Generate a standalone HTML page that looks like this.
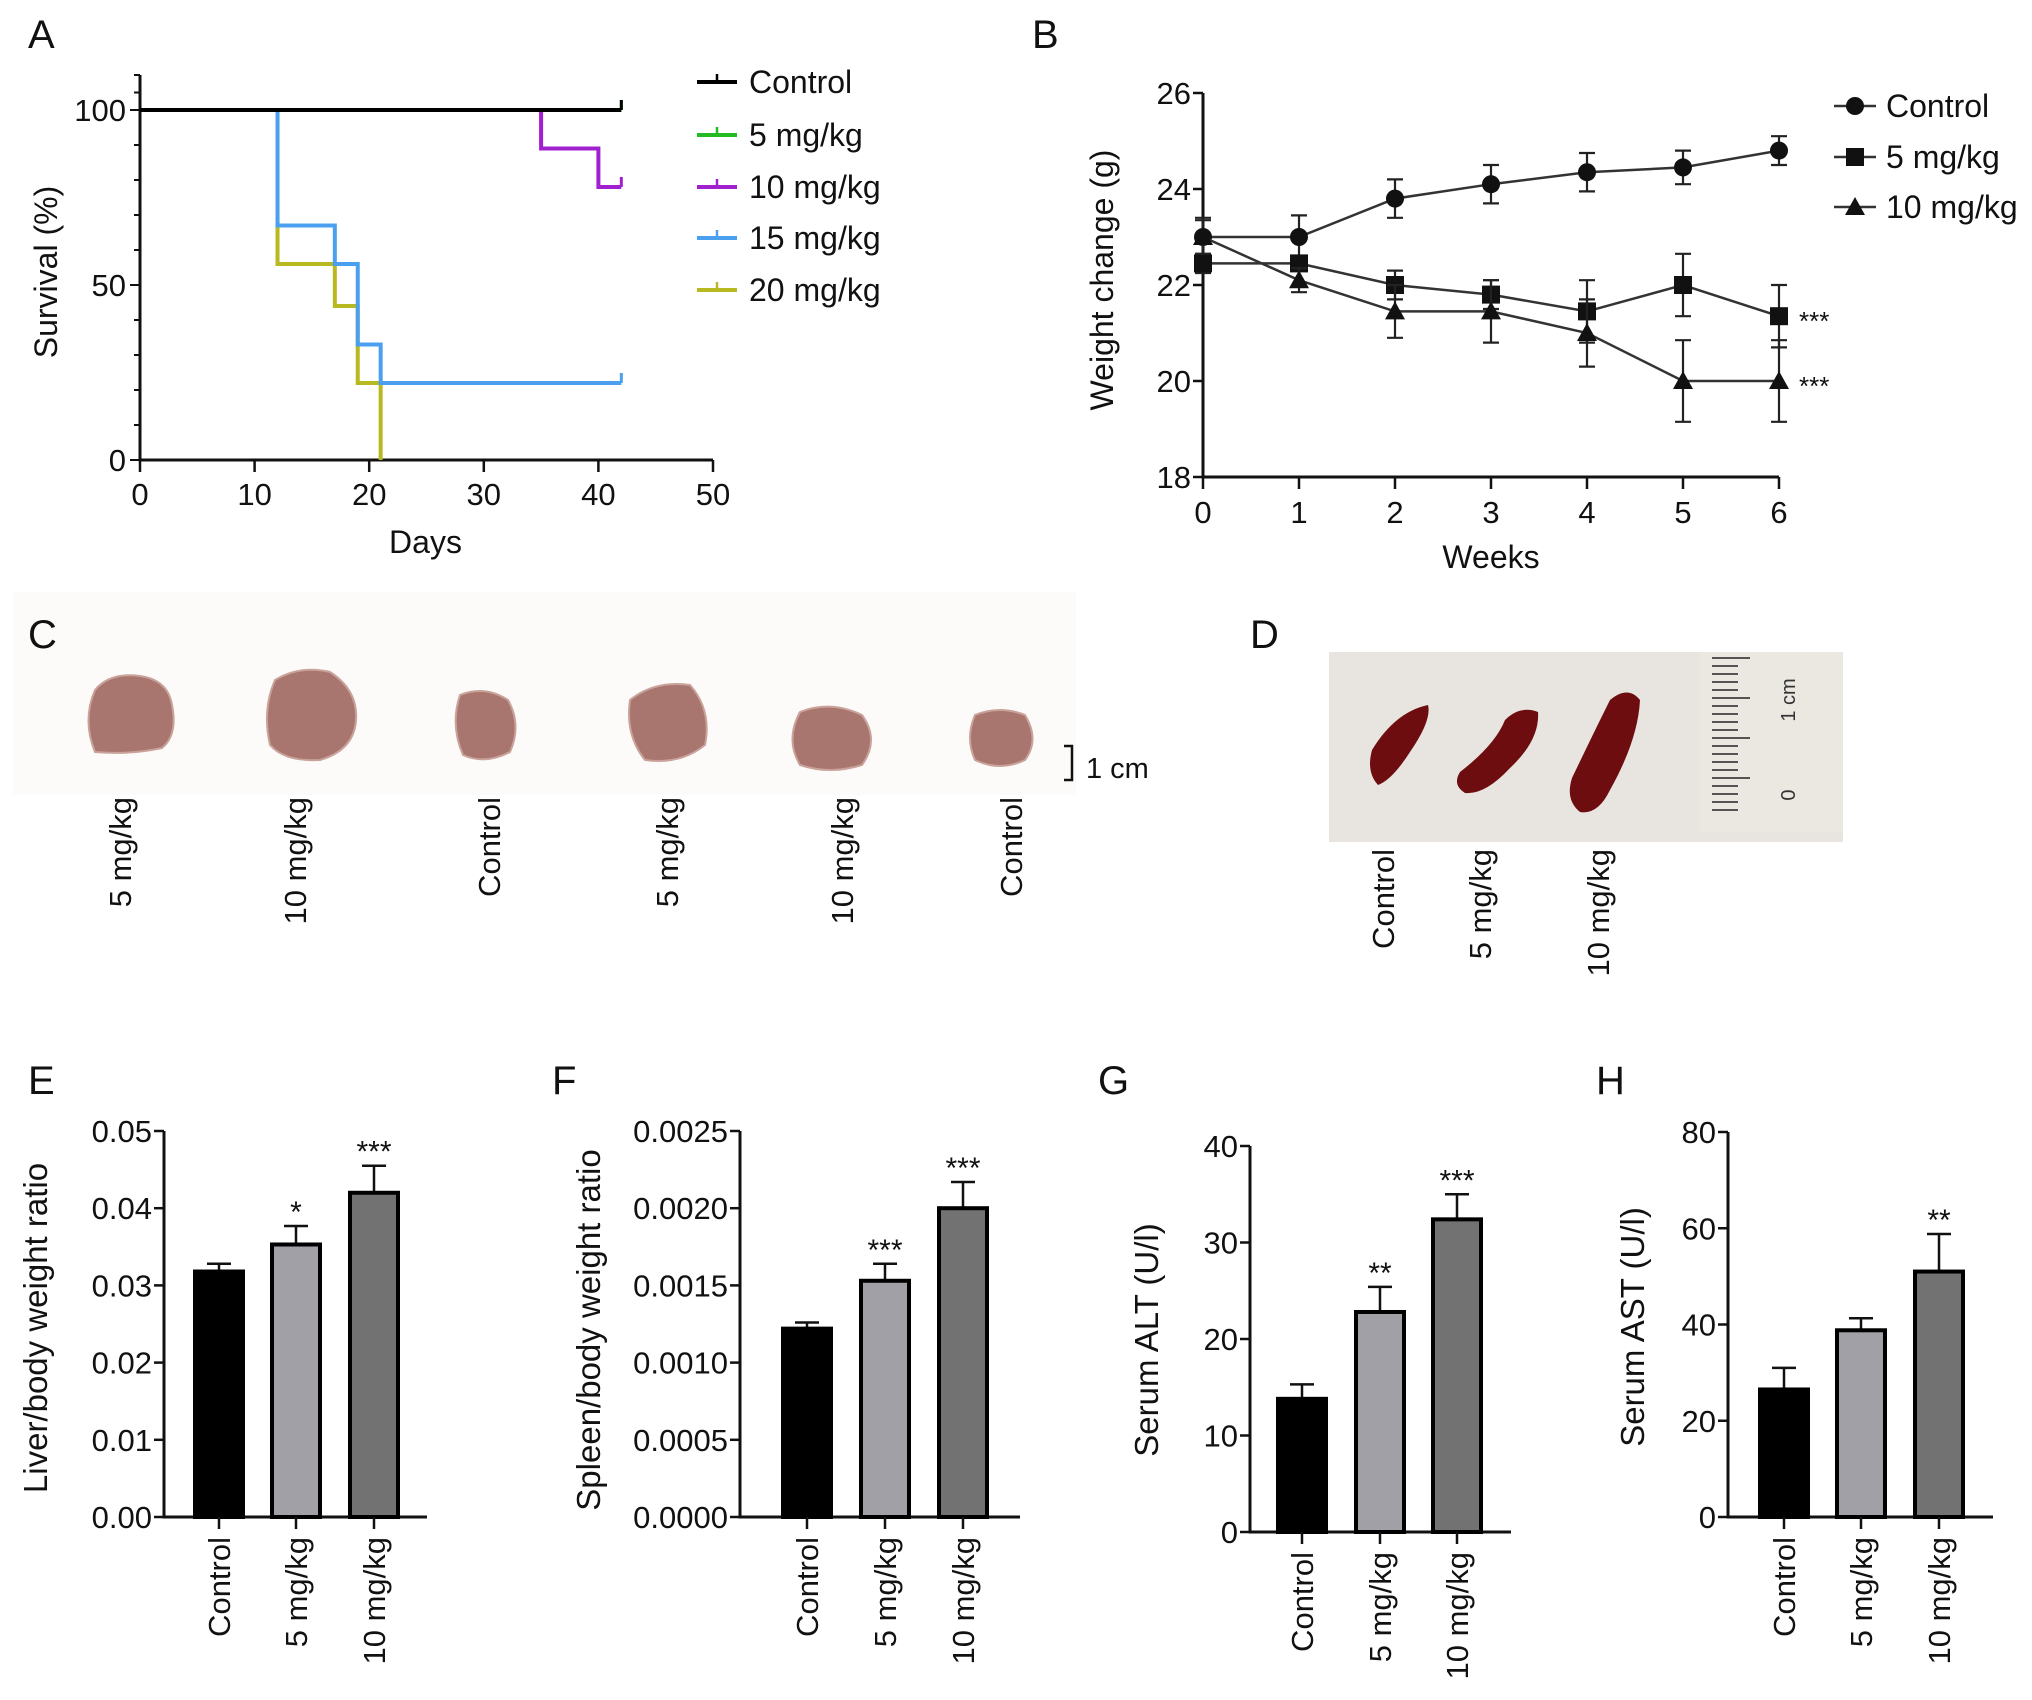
<!DOCTYPE html>
<html><head><meta charset="utf-8"><style>
html,body{margin:0;padding:0;background:#fff;}
svg{display:block;font-family:"Liberation Sans",sans-serif;}
</style></head><body>
<svg id="fig" width="2032" height="1700" viewBox="0 0 2032 1700" xmlns="http://www.w3.org/2000/svg">
<g id="photos">
  <rect x="13" y="592" width="1063" height="203" fill="#fcfbfa"/>
  <g fill="#a8766e" stroke="#c9a29a" stroke-width="2">
    <path d="M95 690 Q110 672 140 676 Q168 680 172 705 Q178 735 162 748 Q130 755 95 752 Q82 720 95 690Z"/>
    <path d="M275 680 Q300 665 330 672 Q358 690 356 720 Q354 750 320 760 Q285 762 270 745 Q262 710 275 680Z"/>
    <path d="M460 695 Q485 685 508 700 Q522 725 510 752 Q485 765 463 755 Q450 725 460 695Z"/>
    <path d="M630 700 Q655 680 690 685 Q712 710 705 745 Q680 765 645 760 Q625 735 630 700Z"/>
    <path d="M800 712 Q830 700 862 715 Q880 740 862 765 Q830 775 800 765 Q785 740 800 712Z"/>
    <path d="M975 715 Q1000 705 1025 715 Q1040 740 1025 760 Q1000 772 975 760 Q965 738 975 715Z"/>
  </g>
  <path d="M1064 746 H1072 V780 H1064" fill="none" stroke="#111" stroke-width="2.5"/>
  <text x="1086" y="778" font-size="29" fill="#111">1 cm</text>
  <rect x="1329" y="652" width="514" height="190" fill="#e8e5e1"/>
  <g fill="#6e0d0f">
    <path d="M1372 750 Q1395 712 1428 705 Q1432 720 1410 752 Q1392 780 1378 785 Q1366 772 1372 750Z"/>
    <path d="M1460 772 Q1495 745 1505 720 Q1520 705 1538 712 Q1540 740 1510 768 Q1485 795 1465 793 Q1452 785 1460 772Z"/>
    <path d="M1572 778 Q1595 730 1610 700 Q1628 685 1640 700 Q1638 740 1610 790 Q1598 815 1580 812 Q1565 800 1572 778Z"/>
  </g>
  <rect x="1700" y="652" width="143" height="180" fill="#ebe8e2"/>
  <g id="rulerTicks" stroke="#555" stroke-width="2"></g>
  <text transform="translate(1795,700) rotate(-90)" font-size="20" fill="#333" text-anchor="middle">1 cm</text>
  <text transform="translate(1795,795) rotate(-90)" font-size="20" fill="#333" text-anchor="middle">0</text>
</g>
<g id="root"></g>
</svg>
<script>
// ---------- Panel A data ----------
const survGroups = ["Control","5 mg/kg","10 mg/kg","15 mg/kg","20 mg/kg"];
const survColors = ["#000000","#22bb22","#a020d0","#4aa0ee","#b8b820"];
const survTimes10 = [0,35,40,42];
const survVals10 = [100,89,78,78];
const survTimes15 = [0,12,17,19,21,42];
const survVals15 = [100,67,56,33,22,22];
const survTimes20 = [0,12,17,19,21];
const survVals20 = [100,56,44,22,0];
const survTimesCtl = [0,42];
const survValsCtl = [100,100];
const survXTicks = [0,10,20,30,40,50];
const survYTicks = [0,50,100];
// ---------- Panel B data ----------
const weeks = [0,1,2,3,4,5,6];
const wCtl = [23.0,23.0,23.8,24.1,24.35,24.45,24.8];
const wCtlErr = [0.4,0.45,0.4,0.4,0.4,0.35,0.3];
const w5 = [22.45,22.45,22.0,21.8,21.45,22.0,21.35];
const w5Err = [0.2,0.15,0.3,0.3,0.65,0.65,0.65];
const w10 = [23.0,22.1,21.45,21.45,21.0,20.0,20.0];
const w10Err = [0.35,0.25,0.55,0.65,0.7,0.85,0.85];
const wYTicks = [18,20,22,24,26];
// ---------- Bar panels ----------
const barCats = ["Control","5 mg/kg","10 mg/kg"];
const liverVals = [0.0318,0.0353,0.0420];
const liverErr = [0.0010,0.0024,0.0035];
const liverStars = ["","*","***"];
const liverTicks = ["0.00","0.01","0.02","0.03","0.04","0.05"];
const spleenVals = [0.00122,0.00153,0.00200];
const spleenErr = [0.00004,0.00011,0.00017];
const spleenStars = ["","***","***"];
const spleenTicks = ["0.0000","0.0005","0.0010","0.0015","0.0020","0.0025"];
const altVals = [13.8,22.8,32.4];
const altErr = [1.5,2.6,2.6];
const altStars = ["","**","***"];
const altTicks = ["0","10","20","30","40"];
const astVals = [26.5,38.8,51.0];
const astErr = [4.5,2.5,7.8];
const astStars = ["","","**"];
const astTicks = ["0","20","40","60","80"];

const NS="http://www.w3.org/2000/svg";
const root=document.getElementById('root');
function mk(tag,attrs,parent,txt){const e=document.createElementNS(NS,tag);for(const k in attrs)e.setAttribute(k,attrs[k]);if(txt!==undefined)e.textContent=txt;(parent||root).appendChild(e);return e;}

const rt=document.getElementById('rulerTicks');
for(let i=0;i<20;i++){const y=658+i*8;const l=mk('line',{x1:1712,x2:1712+(i%5===0?38:26),y1:y,y2:y},rt);

}

const letters=[["A",28,48],["B",1032,48],["C",28,648],["D",1250,648],["E",28,1094],["F",552,1094],["G",1098,1094],["H",1596,1094]];
letters.forEach(l=>{const t=mk('text',{x:l[1],y:l[2],'font-size':40,fill:'#111'},root,l[0]);

});

function vlabel(x,yTop,txt,name,size){const t=mk('text',{transform:`translate(${x+size*0.36},${yTop}) rotate(-90)`,'text-anchor':'end','font-size':size,fill:'#111'},root,txt);

return t;}
const cLabels=["5 mg/kg","10 mg/kg","Control","5 mg/kg","10 mg/kg","Control"];
const cX=[120,295,489,667,842,1011];
cLabels.forEach((s,i)=>vlabel(cX[i],797,s,'liver-label-'+(i+1),31));
const dX=[1383,1480,1598];
barCats.forEach((s,i)=>vlabel(dX[i],849,s,'spleen-label-'+(i+1),31));

// ---------- Panel A ----------
(function(){
 const g=mk('g',{});
 const x0=140,x1=713,y0=460,y100=110;
 const X=v=>x0+(v-0)/50*(x1-x0), Y=v=>y0-(v/100)*(y0-y100);
 const ax=mk('path',{d:`M${x0} 75 V${y0} H${x1}`,fill:'none',stroke:'#111','stroke-width':3},g);
 
 for(let i=0;i<=11;i++){const y=Y(i*10);const big=i%5===0;mk('line',{x1:x0-(big?10:6),x2:x0,y1:y,y2:y,stroke:'#111','stroke-width':2},g);}
 mk('line',{x1:x0-6,x2:x0,y1:Y(105),y2:Y(105),stroke:'#111','stroke-width':2},g);
 survXTicks.forEach(v=>{mk('line',{x1:X(v),x2:X(v),y1:y0,y2:y0+12,stroke:'#111','stroke-width':2.5},g);
  const t=mk('text',{x:X(v),y:y0+45,'text-anchor':'middle','font-size':31,fill:'#111'},g,v);
  });
 survYTicks.forEach(v=>{const t=mk('text',{x:x0-14,y:Y(v)+11,'text-anchor':'end','font-size':31,fill:'#111'},g,v);
  });
 const xt=mk('text',{x:(x0+x1)/2-1,y:553,'text-anchor':'middle','font-size':32,fill:'#111'},g,'Days');
 
 const yt=mk('text',{transform:`translate(57,272) rotate(-90)`,'text-anchor':'middle','font-size':32,fill:'#111'},g,'Survival (%)');
 
 function step(ts,vs,col,name){let d=`M${X(ts[0])} ${Y(vs[0])}`;for(let i=1;i<ts.length;i++){d+=` H${X(ts[i])} V${Y(vs[i])}`;}
  const p=mk('path',{d,fill:'none',stroke:col,'stroke-width':4},g);
  const lt=ts[ts.length-1],lv=vs[vs.length-1];if(lv>0)mk('line',{x1:X(lt),x2:X(lt),y1:Y(lv),y2:Y(lv)-10,stroke:col,'stroke-width':3},g);}
 step(survTimes20,survVals20,survColors[4],'survival-line-20mg');
 step(survTimes15,survVals15,survColors[3],'survival-line-15mg');
 step(survTimes10,survVals10,survColors[2],'survival-line-10mg');
 step(survTimesCtl,survValsCtl,survColors[1],'survival-line-5mg');
 step(survTimesCtl,survValsCtl,survColors[0],'survival-line-control');
 const ly=[82,135,187,238,290];
 survGroups.forEach((s,i)=>{const e=mk('g',{},g);
  mk('line',{x1:697,x2:737,y1:ly[i],y2:ly[i],stroke:survColors[i],'stroke-width':4},e);
  mk('line',{x1:717,x2:717,y1:ly[i],y2:ly[i]-8,stroke:survColors[i],'stroke-width':2.5},e);
  mk('text',{x:749,y:ly[i]+11,'font-size':32,fill:'#111'},e,s);});
})();

// ---------- Panel B ----------
(function(){
 const g=mk('g',{});
 const x0=1203,x1=1779,y0=477,yT=93;
 const X=v=>x0+v/6*(x1-x0), Y=v=>y0-(v-18)/8*(y0-yT);
 const ax=mk('path',{d:`M${x0} ${yT} V${y0} H${x1}`,fill:'none',stroke:'#111','stroke-width':3},g);
 
 wYTicks.forEach(v=>{mk('line',{x1:x0-10,x2:x0,y1:Y(v),y2:Y(v),stroke:'#111','stroke-width':2.5},g);
  const t=mk('text',{x:x0-12,y:Y(v)+11,'text-anchor':'end','font-size':31,fill:'#111'},g,v);
  });
 weeks.forEach(v=>{mk('line',{x1:X(v),x2:X(v),y1:y0,y2:y0+12,stroke:'#111','stroke-width':2.5},g);
  const t=mk('text',{x:X(v),y:y0+46,'text-anchor':'middle','font-size':31,fill:'#111'},g,v);
  });
 const xt=mk('text',{x:(x0+x1)/2,y:568,'text-anchor':'middle','font-size':32,fill:'#111'},g,'Weeks');
 
 const yt=mk('text',{transform:`translate(1113,280) rotate(-90)`,'text-anchor':'middle','font-size':32,fill:'#111'},g,'Weight change (g)');
 
 function marker(type,x,y,par){if(type==='c')return mk('circle',{cx:x,cy:y,r:9,fill:'#111'},par);
  if(type==='s')return mk('rect',{x:x-9,y:y-9,width:18,height:18,fill:'#111'},par);
  return mk('path',{d:`M${x} ${y-10} L${x+10} ${y+8} L${x-10} ${y+8}Z`,fill:'#111'},par);}
 function series(vals,errs,type,name){const s=mk('g',{},g);
  mk('polyline',{points:vals.map((v,i)=>X(weeks[i])+','+Y(v)).join(' '),fill:'none',stroke:'#333','stroke-width':2.5},s);
  vals.forEach((v,i)=>{const x=X(weeks[i]);mk('path',{d:`M${x} ${Y(v-errs[i])} V${Y(v+errs[i])} M${x-8} ${Y(v-errs[i])} H${x+8} M${x-8} ${Y(v+errs[i])} H${x+8}`,stroke:'#222','stroke-width':2.2,fill:'none'},s);
   const m=marker(type,x,Y(v),s);});}
 series(wCtl,wCtlErr,'c','weight-series-control');
 series(w5,w5Err,'s','weight-series-5mg');
 series(w10,w10Err,'t','weight-series-10mg');
 [[w5,'weight-sig-5mg'],[w10,'weight-sig-10mg']].forEach(a=>{const t=mk('text',{x:X(6)+20,y:Y(a[0][6])+14,'font-size':26,fill:'#111'},g,'***');
  });
 const names=["Control","5 mg/kg","10 mg/kg"],types=['c','s','t'],ly=[106,157,207];
 names.forEach((s,i)=>{const e=mk('g',{},g);
  mk('line',{x1:1834,x2:1876,y1:ly[i],y2:ly[i],stroke:'#333','stroke-width':2.5},e);marker(types[i],1855,ly[i],e);
  mk('text',{x:1886,y:ly[i]+11,'font-size':32,fill:'#111'},e,s);});
})();

// ---------- Bar charts ----------
const barFills=["#000000","#a0a0a6","#727272"];
function barChart(o){
 const g=mk('g',{});
 const {x0,x1,y0,yT,max,cx}=o;const Y=v=>y0-v/max*(y0-yT);
 const ax=mk('path',{d:`M${x0} ${yT} V${y0} H${x1}`,fill:'none',stroke:'#111','stroke-width':3},g);
 
 const n=o.ticks.length-1;
 o.ticks.forEach((lab,i)=>{const y=Y(max*i/n);mk('line',{x1:x0-10,x2:x0,y1:y,y2:y,stroke:'#111','stroke-width':2.5},g);
  const t=mk('text',{x:x0-12,y:y+11,'text-anchor':'end','font-size':31,fill:'#111'},g,lab);
  });
 o.vals.forEach((v,i)=>{const x=cx[i],w=48;const top=Y(v),et=Y(v+o.errs[i]);
  mk('path',{d:`M${x} ${top} V${et} M${x-12} ${et} H${x+12}`,stroke:'#111','stroke-width':2.5,fill:'none'},g);
  const r=mk('rect',{x:x-w/2,y:top,width:w,height:y0-top,fill:barFills[i],stroke:'#000','stroke-width':4},g);
  
  mk('line',{x1:x,x2:x,y1:y0,y2:y0+12,stroke:'#111','stroke-width':2.5},g);
  if(o.stars[i]){const s=mk('text',{x:x,y:et-4,'text-anchor':'middle','font-size':30,fill:'#111'},g,o.stars[i]);
   }
  const t=mk('text',{transform:`translate(${x+11},${y0+20}) rotate(-90)`,'text-anchor':'end','font-size':31,fill:'#111'},g,barCats[i]);
  });
 const yt=mk('text',{transform:`translate(${o.ytx},${o.yty}) rotate(-90)`,'text-anchor':'middle','font-size':33,fill:'#111'},g,o.title);
 
}
barChart({name:'liver-ratio-chart',x0:164,x1:427,y0:1517,yT:1131,max:0.05,cx:[219,296,374],vals:liverVals,errs:liverErr,stars:liverStars,ticks:liverTicks,title:'Liver/body weight ratio',ytx:47,yty:1328});
barChart({name:'spleen-ratio-chart',x0:740,x1:1020,y0:1517,yT:1131,max:0.0025,cx:[807,885,963],vals:spleenVals,errs:spleenErr,stars:spleenStars,ticks:spleenTicks,title:'Spleen/body weight ratio',ytx:600,yty:1330});
barChart({name:'alt-chart',x0:1250,x1:1511,y0:1532,yT:1146,max:40,cx:[1302,1380,1457],vals:altVals,errs:altErr,stars:altStars,ticks:altTicks,title:'Serum ALT (U/l)',ytx:1158,yty:1340});
barChart({name:'ast-chart',x0:1728,x1:1993,y0:1517,yT:1132,max:80,cx:[1784,1861,1939],vals:astVals,errs:astErr,stars:astStars,ticks:astTicks,title:'Serum AST (U/l)',ytx:1644,yty:1327});
</script>
</body></html>
